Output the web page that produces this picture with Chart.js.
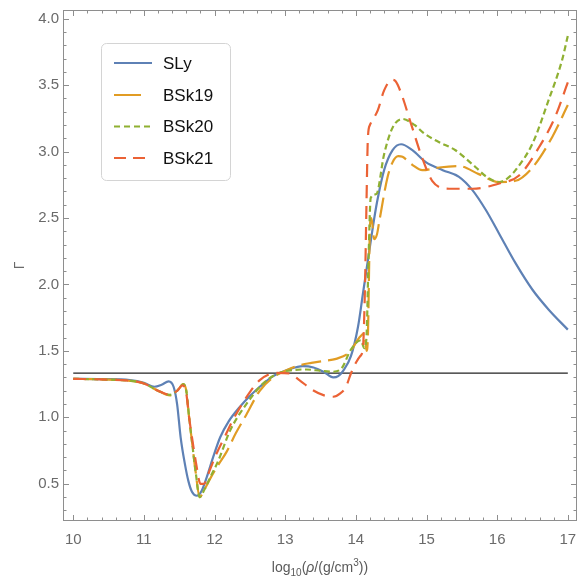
<!DOCTYPE html>
<html>
<head>
<meta charset="utf-8">
<script src="https://cdn.jsdelivr.net/npm/chart.js@4.4.1/dist/chart.umd.min.js"></script>
<style>
    html, body { margin: 0; padding: 0; background: #fff; }
    #wrap { width: 579px; height: 579px; }
</style>
</head>
<body>
<div id="wrap"><canvas id="gammaChart" width="579" height="579"></canvas></div>
<script>
// valores (log10 rho, Gamma)
const seriesNames = ['SLy', 'BSk19', 'BSk20', 'BSk21'];

const slyX = [10.0, 10.4, 10.8, 11.0, 11.15, 11.25, 11.35, 11.42, 11.47, 11.52, 11.58, 11.63, 11.68, 11.75, 11.82, 11.89,
    11.98, 12.08, 12.2, 12.36, 12.5, 12.64, 12.83, 13.05, 13.25, 13.4, 13.55, 13.68, 13.75, 13.82, 13.93, 14.03,
    14.1, 14.17, 14.24, 14.3, 14.4, 14.52, 14.64, 14.8, 14.99, 15.23, 15.46, 15.65, 15.84, 16.03, 16.26, 16.5, 16.73, 17.0];
const slyY = [1.29, 1.288, 1.28, 1.26, 1.23, 1.245, 1.27, 1.23, 1.1, 0.85, 0.65, 0.52, 0.44, 0.41, 0.45, 0.55,
    0.7, 0.85, 0.97, 1.08, 1.16, 1.23, 1.31, 1.36, 1.385, 1.375, 1.34, 1.30, 1.31, 1.35, 1.46, 1.68,
    1.93, 2.18, 2.43, 2.62, 2.86, 3.01, 3.055, 3.01, 2.92, 2.86, 2.81, 2.71, 2.56, 2.38, 2.16, 1.96, 1.81, 1.66];

const bsk19X = [10.0, 10.4, 10.8, 11.0, 11.2, 11.37, 11.47, 11.56, 11.6, 11.64, 11.68, 11.73, 11.79, 11.85, 11.95, 12.05,
    12.17, 12.3, 12.45, 12.64, 12.83, 13.0, 13.16, 13.37, 13.55, 13.72, 13.91, 14.05, 14.12, 14.15, 14.17, 14.19,
    14.2, 14.22, 14.26, 14.3, 14.33, 14.45, 14.52, 14.6, 14.66, 14.8, 14.94, 15.18, 15.46, 15.74, 16.02, 16.26,
    16.5, 16.78, 17.0];
const bsk19Y = [1.29, 1.285, 1.275, 1.255, 1.2, 1.165, 1.2, 1.25, 1.2, 1.0, 0.82, 0.6, 0.40, 0.45, 0.55, 0.64,
    0.74, 0.88, 1.02, 1.2, 1.3, 1.35, 1.385, 1.41, 1.425, 1.44, 1.49, 1.6, 1.63, 1.5, 1.6, 2.2,
    2.45, 2.5, 2.34, 2.38, 2.47, 2.81, 2.92, 2.965, 2.96, 2.9, 2.86, 2.88, 2.89, 2.83, 2.77, 2.78,
    2.88, 3.11, 3.35];

const bsk20X = [10.0, 10.4, 10.8, 11.0, 11.2, 11.37, 11.47, 11.56, 11.6, 11.64, 11.68, 11.73, 11.79, 11.85, 11.95, 12.05,
    12.22, 12.45, 12.69, 12.9, 13.11, 13.3, 13.5, 13.67, 13.8, 13.93, 14.07, 14.12, 14.15, 14.18, 14.21, 14.29,
    14.4, 14.52, 14.66, 14.83, 14.97, 15.18, 15.41, 15.55, 15.7, 15.85, 16.03, 16.15, 16.26, 16.5, 16.73, 16.92, 17.0];
const bsk20Y = [1.29, 1.285, 1.275, 1.255, 1.2, 1.17, 1.2, 1.25, 1.2, 1.0, 0.82, 0.6, 0.40, 0.45, 0.56, 0.67,
    0.9, 1.1, 1.256, 1.33, 1.356, 1.36, 1.35, 1.343, 1.37, 1.51, 1.58, 1.52, 1.6, 2.2, 2.65, 2.68,
    2.98, 3.18, 3.245, 3.2, 3.135, 3.07, 3.01, 2.95, 2.88, 2.81, 2.77, 2.8, 2.86, 3.06, 3.39, 3.69, 3.87];

const bsk21X = [10.0, 10.4, 10.8, 11.0, 11.2, 11.37, 11.47, 11.55, 11.6, 11.64, 11.68, 11.74, 11.8, 11.85, 11.93, 12.03,
    12.15, 12.26, 12.45, 12.64, 12.88, 13.06, 13.2, 13.39, 13.55, 13.68, 13.78, 13.86, 13.93, 14.0, 14.06, 14.1,
    14.13, 14.15, 14.17, 14.2, 14.24, 14.31, 14.4, 14.51, 14.56, 14.64, 14.78, 14.94, 15.08, 15.32, 15.65, 16.03,
    16.31, 16.59, 16.82, 17.0];
const bsk21Y = [1.29, 1.285, 1.275, 1.255, 1.2, 1.17, 1.2, 1.24, 1.18, 1.0, 0.85, 0.65, 0.5, 0.5, 0.6, 0.73,
    0.86, 0.98, 1.15, 1.28, 1.335, 1.33, 1.28, 1.205, 1.165, 1.155, 1.18, 1.23, 1.33, 1.41, 1.46, 1.52,
    2.0, 2.6, 3.1, 3.2, 3.24, 3.31, 3.46, 3.54, 3.53, 3.44, 3.21, 2.95, 2.78, 2.72, 2.72, 2.76,
    2.82, 3.03, 3.26, 3.52];

// linha horizontal Gamma = 4/3
const refLineX = [10, 17];
const refLineY = [4 / 3, 4 / 3];

const xTickValues = [10, 11, 12, 13, 14, 15, 16, 17];
const yTickValues = [0.5, 1.0, 1.5, 2.0, 2.5, 3.0, 3.5, 4.0];

const FONT = "'Liberation Sans', Arial, sans-serif";

function toPoints(xs, ys) {
    return xs.map((x, i) => ({ x: x, y: ys[i] }));
}

function curve(label, xs, ys, color, dash, order) {
    return {
        label: label,
        data: toPoints(xs, ys),
        borderColor: color,
        backgroundColor: color,
        borderWidth: 2.2,
        borderDash: dash,
        pointRadius: 0,
        fill: false,
        cubicInterpolationMode: 'monotone',
        order: order
    };
}

// moldura, ticks para dentro, rótulos e legenda
const framePlugin = {
    id: 'frameAndLegend',
    afterDatasetsDraw(chart) {
        const ctx = chart.ctx;
        const area = chart.chartArea;
        const xs = chart.scales.x;
        const ys = chart.scales.y;
        ctx.save();

        // moldura
        ctx.strokeStyle = '#8e8e8e';
        ctx.lineWidth = 1;
        ctx.strokeRect(area.left + 0.5, area.top + 0.5, area.right - area.left - 1, area.bottom - area.top - 1);

        // ticks eixo x (baixo e cima)
        ctx.beginPath();
        for (let i = 0; i <= 35; i++) {
            const v = 10 + i * 0.2;
            if (v < xs.min || v > xs.max) continue;
            const px = Math.round(xs.getPixelForValue(v)) + 0.5;
            const len = (i % 5 === 0) ? 6 : 3.5;
            ctx.moveTo(px, area.bottom);
            ctx.lineTo(px, area.bottom - len);
            ctx.moveTo(px, area.top);
            ctx.lineTo(px, area.top + len);
        }
        // ticks eixo y (esquerda e direita)
        for (let i = 2; i <= 41; i++) {
            const v = i * 0.1;
            if (v < ys.min || v > ys.max) continue;
            const py = Math.round(ys.getPixelForValue(v)) + 0.5;
            const len = (i % 5 === 0) ? 6 : 3.5;
            ctx.moveTo(area.left, py);
            ctx.lineTo(area.left + len, py);
            ctx.moveTo(area.right, py);
            ctx.lineTo(area.right - len, py);
        }
        ctx.stroke();

        // rótulos dos ticks
        ctx.fillStyle = '#6a6a6a';
        ctx.font = '15px ' + FONT;
        ctx.textAlign = 'center';
        ctx.textBaseline = 'top';
        xTickValues.forEach(v => {
            ctx.fillText(String(v), xs.getPixelForValue(v), area.bottom + 11);
        });
        ctx.textAlign = 'right';
        ctx.textBaseline = 'middle';
        yTickValues.forEach(v => {
            ctx.fillText(v.toFixed(1), area.left - 4, ys.getPixelForValue(v));
        });

        // título eixo y
        ctx.save();
        ctx.translate(20, (area.top + area.bottom) / 2);
        ctx.rotate(-Math.PI / 2);
        ctx.textAlign = 'center';
        ctx.textBaseline = 'middle';
        ctx.font = '14px ' + FONT;
        ctx.fillText('Γ', 0, 0);
        ctx.restore();

        // título eixo x: log10(ρ/(g/cm3))
        const parts = [
            { t: 'log', f: '14px ' + FONT, dy: 0 },
            { t: '10', f: '10px ' + FONT, dy: 4 },
            { t: '(', f: '14px ' + FONT, dy: 0 },
            { t: 'ρ', f: 'italic 14px ' + FONT, dy: 0 },
            { t: '/(g/cm', f: '14px ' + FONT, dy: 0 },
            { t: '3', f: '10px ' + FONT, dy: -6 },
            { t: '))', f: '14px ' + FONT, dy: 0 }
        ];
        let total = 0;
        parts.forEach(p => { ctx.font = p.f; p.w = ctx.measureText(p.t).width; total += p.w; });
        let cx = (area.left + area.right) / 2 - total / 2;
        ctx.textAlign = 'left';
        ctx.textBaseline = 'alphabetic';
        ctx.fillStyle = '#5a5a5a';
        parts.forEach(p => {
            ctx.font = p.f;
            ctx.fillText(p.t, cx, 572 + p.dy);
            cx += p.w;
        });

        // legenda
        const lx = 101, ly = 43, lw = 129, lh = 137;
        ctx.beginPath();
        ctx.roundRect(lx + 0.5, ly + 0.5, lw, lh, 5);
        ctx.fillStyle = '#ffffff';
        ctx.fill();
        ctx.strokeStyle = '#d4d4d4';
        ctx.lineWidth = 1;
        ctx.stroke();
        const rowY = [63, 95, 126.5, 158];
        chart.data.datasets.filter(d => seriesNames.includes(d.label)).forEach(d => {
            const r = rowY[seriesNames.indexOf(d.label)];
            ctx.beginPath();
            ctx.strokeStyle = d.borderColor;
            ctx.lineWidth = 2;
            ctx.setLineDash(d.legendDash);
            ctx.moveTo(114, r);
            ctx.lineTo(152, r);
            ctx.stroke();
            ctx.setLineDash([]);
            ctx.fillStyle = '#111';
            ctx.font = '17px ' + FONT;
            ctx.textAlign = 'left';
            ctx.textBaseline = 'middle';
            ctx.fillText(d.label, 163, r + 1);
        });
        ctx.restore();
    }
};

const datasets = [
    curve('SLy', slyX, slyY, '#5E81B5', [], 4),
    curve('BSk19', bsk19X, bsk19Y, '#E19C24', [20, 7], 3),
    curve('BSk20', bsk20X, bsk20Y, '#8FB032', [6, 3.5], 2),
    curve('BSk21', bsk21X, bsk21Y, '#EB6235', [13, 8], 1),
    {
        label: 'ref',
        data: toPoints(refLineX, refLineY),
        borderColor: '#222',
        borderWidth: 1.2,
        pointRadius: 0,
        fill: false,
        order: 5
    }
];
datasets[0].legendDash = [];
datasets[1].legendDash = [27, 11];
datasets[2].legendDash = [6, 4];
datasets[3].legendDash = [12, 7];

new Chart(document.getElementById('gammaChart'), {
    type: 'line',
    data: { datasets: datasets },
    options: {
        responsive: false,
        animation: false,
        devicePixelRatio: 1,
        layout: { padding: { left: 63, right: 2, top: 10, bottom: 58 } },
        scales: {
            x: { type: 'linear', min: 9.855, max: 17.13, display: false },
            y: { type: 'linear', min: 0.22, max: 4.065, display: false }
        },
        plugins: {
            legend: { display: false },
            tooltip: { enabled: false }
        }
    },
    plugins: [framePlugin]
});
</script>
</body>
</html>
